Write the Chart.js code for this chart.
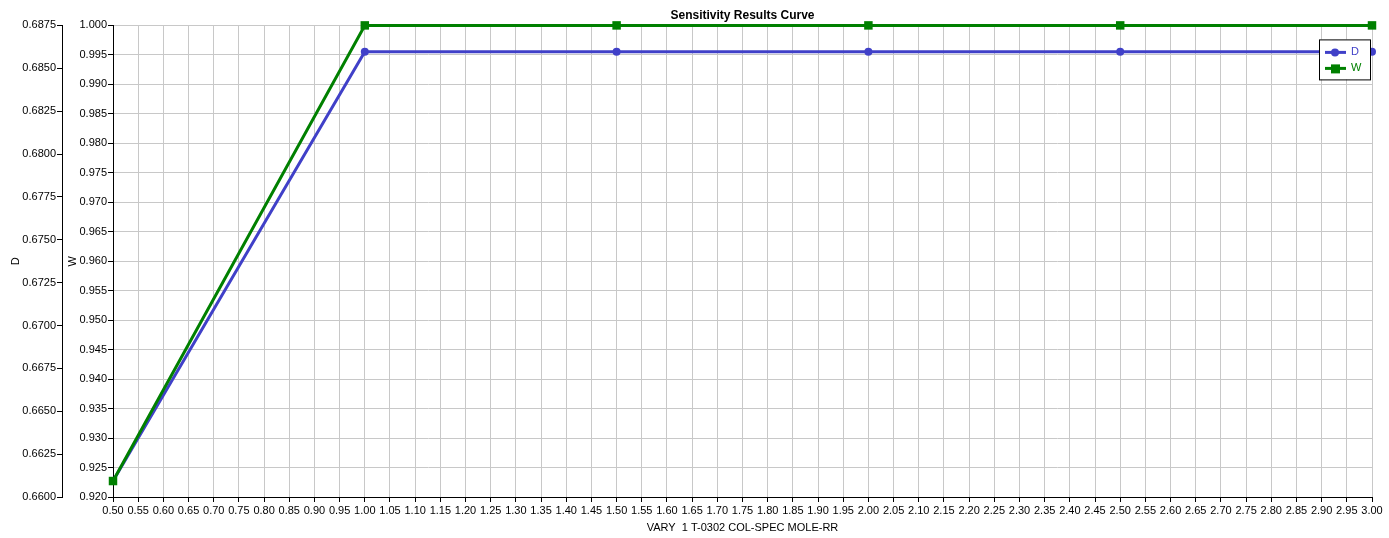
<!DOCTYPE html>
<html lang="en">
<head>
    <meta charset="UTF-8">
    <title>Sensitivity Results Curve</title>
    <script src="https://cdn.jsdelivr.net/npm/chart.js"></script>
    <style>
        body {
            margin: 0;
            background-color: #fff;
        }
        #chartBox {
            width: 1389px;
            height: 538px;
        }
    </style>
</head>
<body>
    <div id="chartBox">
        <canvas id="sensChart" width="1389" height="538"></canvas>
    </div>

    <script>
        // Datos
        const xValues = [0.50, 1.00, 1.50, 2.00, 2.50, 3.00];
        const dValues = [0.66093, 0.68597, 0.68597, 0.68597, 0.68597, 0.68597];
        const wValues = [0.92271, 1.000, 1.000, 1.000, 1.000, 1.000];

        const xAxis = { min: 0.50, max: 3.00, step: 0.05, title: 'VARY  1 T-0302 COL-SPEC MOLE-RR' };
        const dAxis = { min: 0.6600, max: 0.6875, step: 0.0025, title: 'D' };
        const wAxis = { min: 0.920, max: 1.000, step: 0.005, title: 'W' };

        const blue = 'rgb(64,64,200)';
        const green = 'rgb(0,128,0)';
        const gridGrey = '#c8c8c8';
        const tickFont = { family: 'Liberation Sans', size: 11 };

        function toPoints(xs, ys) {
            return xs.map((x, i) => ({ x: x, y: ys[i] }));
        }

        // Leyenda dibujada a mano (linea + marcador)
        const boxLegend = {
            id: 'boxLegend',
            afterDraw(chart) {
                const ctx = chart.ctx;
                const area = chart.chartArea;
                const left = area.right - 53;
                const top = area.top + 14;
                ctx.save();
                ctx.fillStyle = '#fff';
                ctx.fillRect(left, top, 51, 40);
                ctx.strokeStyle = '#000';
                ctx.lineWidth = 1;
                ctx.strokeRect(left + 0.5, top + 0.5, 51, 40);
                const items = [
                    { label: 'D', color: blue, style: 'circle' },
                    { label: 'W', color: green, style: 'rect' }
                ];
                items.forEach((it, i) => {
                    const y = top + 13 + i * 16;
                    ctx.strokeStyle = it.color;
                    ctx.lineWidth = 3;
                    ctx.beginPath();
                    ctx.moveTo(left + 6, y);
                    ctx.lineTo(left + 27, y);
                    ctx.stroke();
                    ctx.fillStyle = it.color;
                    if (it.style === 'circle') {
                        ctx.beginPath();
                        ctx.arc(left + 16, y, 4, 0, Math.PI * 2);
                        ctx.fill();
                    } else {
                        ctx.fillRect(left + 12, y - 4, 9, 9);
                    }
                    ctx.font = '11px "Liberation Sans"';
                    ctx.textBaseline = 'middle';
                    ctx.fillText(it.label, left + 32, y);
                });
                ctx.restore();
            }
        };

        const ctx = document.getElementById('sensChart').getContext('2d');
        const sensChart = new Chart(ctx, {
            type: 'line',
            data: {
                datasets: [
                    {
                        label: 'D',
                        data: toPoints(xValues, dValues),
                        yAxisID: 'yD',
                        borderColor: blue,
                        backgroundColor: blue,
                        borderWidth: 3,
                        pointStyle: 'circle',
                        pointRadius: 4,
                        pointBorderWidth: 0,
                        tension: 0,
                        clip: false,
                        order: 2
                    },
                    {
                        label: 'W',
                        data: toPoints(xValues, wValues),
                        yAxisID: 'yW',
                        borderColor: green,
                        backgroundColor: green,
                        borderWidth: 3,
                        pointStyle: 'rect',
                        pointRadius: 6,
                        pointBorderWidth: 0,
                        tension: 0,
                        clip: false,
                        order: 1
                    }
                ]
            },
            options: {
                responsive: false,
                animation: false,
                layout: { padding: { left: 0, right: 17, top: 0, bottom: 0 } },
                plugins: {
                    legend: { display: false },
                    tooltip: { enabled: false },
                    title: {
                        display: true,
                        text: 'Sensitivity Results Curve',
                        fullSize: false,
                        color: '#000',
                        font: { family: 'Liberation Sans', size: 12, weight: 'bold', lineHeight: 1.2 },
                        padding: { top: 8, bottom: 3 }
                    }
                },
                scales: {
                    x: {
                        type: 'linear',
                        min: xAxis.min,
                        max: xAxis.max,
                        grid: { color: gridGrey, tickColor: '#000', tickLength: 5 },
                        border: { color: '#000' },
                        ticks: {
                            stepSize: xAxis.step,
                            autoSkip: false,
                            maxRotation: 0,
                            padding: 2,
                            color: '#000',
                            font: tickFont,
                            callback: v => Number(v).toFixed(2)
                        },
                        title: { display: true, text: xAxis.title, color: '#000', font: tickFont, padding: { top: 0, bottom: 3 } },
                        afterFit(scale) { scale.height = 41; }
                    },
                    yW: {
                        type: 'linear',
                        position: 'left',
                        weight: 0,
                        min: wAxis.min,
                        max: wAxis.max,
                        grid: { color: gridGrey, tickColor: '#000', tickLength: 5 },
                        border: { color: '#000' },
                        ticks: {
                            stepSize: wAxis.step,
                            padding: 1,
                            color: '#000',
                            font: tickFont,
                            callback: v => Number(v).toFixed(3)
                        },
                        title: { display: true, text: wAxis.title, color: '#000', font: tickFont, padding: { top: 4, bottom: 0 } },
                        afterFit(scale) { scale.width = 51; }
                    },
                    yD: {
                        type: 'linear',
                        position: 'left',
                        weight: 1,
                        min: dAxis.min,
                        max: dAxis.max,
                        grid: { drawOnChartArea: false, tickColor: '#000', tickLength: 5 },
                        border: { color: '#000' },
                        ticks: {
                            stepSize: dAxis.step,
                            padding: 1,
                            color: '#000',
                            font: tickFont,
                            callback: v => Number(v).toFixed(4)
                        },
                        title: { display: true, text: dAxis.title, color: '#000', font: tickFont, padding: { top: 9, bottom: 0 } },
                        afterFit(scale) { scale.width = 62; }
                    }
                }
            },
            plugins: [boxLegend]
        });
    </script>
</body>
</html>
